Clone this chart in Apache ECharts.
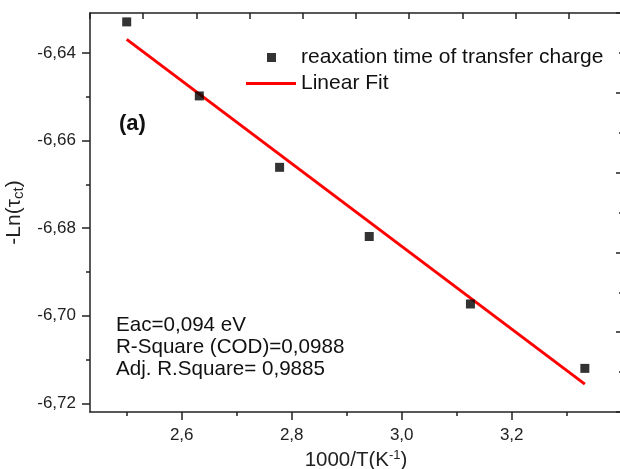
<!DOCTYPE html>
<html>
<head>
<meta charset="utf-8">
<script src="https://cdn.jsdelivr.net/npm/echarts@6/dist/echarts.min.js"></script>
<style>html,body{margin:0;padding:0;background:#fff}#c{width:620px;height:469px}</style>
</head>
<body>
<div id="c"></div>
<script>
// Data
const xVals = [2.5, 2.632, 2.778, 2.941, 3.125, 3.333];
const yVals = [-6.6329, -6.6498, -6.6661, -6.6819, -6.6973, -6.7120];
const fitX = [2.5, 3.333];
const fitY = [-6.6369, -6.7156];
const xMajorTicks = [2.6, 2.8, 3.0, 3.2];
const xMinorTicks = [2.5, 2.7, 2.9, 3.1, 3.3];
const yMajorTicks = [-6.72, -6.70, -6.68, -6.66, -6.64];
const yMinorTicks = [-6.71, -6.69, -6.67, -6.65];
const seriesNames = ['reaxation time of transfer charge', 'Linear Fit'];
const notes = ['Eac=0,094 eV', 'R-Square (COD)=0,0988', 'Adj. R.Square= 0,9885'];
const panelLabel = '(a)';

const FONT = 'Liberation Sans, Arial, sans-serif';
const AX = '#222';
const xMin = 2.43327, xMax = 3.40055;
const yMin = -6.72196, yMax = -6.63087;

const chart = echarts.init(document.getElementById('c'), null, {renderer: 'canvas'});
const hidden = {show: false};
chart.setOption({
  animation: false,
  backgroundColor: '#fff',
  textStyle: {fontFamily: FONT},
  grid: {left: 90, top: 13, width: 532, height: 399, containLabel: false, outerBoundsMode: 'none'},
  legend: [
    {data: [seriesNames[0]], left: 267, top: 47, padding: 0, orient: 'vertical', icon: 'rect', itemWidth: 9, itemHeight: 9,
     textStyle: {fontSize: 21, color: '#111', fontFamily: FONT, padding: [0, 0, 0, 20]}},
    {data: [{name: seriesNames[1], icon: 'path://M0,0H50V3H0Z'}], left: 246, top: 73, padding: 0, orient: 'vertical', itemWidth: 50, itemHeight: 3,
     textStyle: {fontSize: 21, color: '#111', fontFamily: FONT}}
  ],
  xAxis: [
    {type: 'value', position: 'bottom', min: xMin, max: xMax, splitLine: hidden,
     axisLine: {show: true, onZero: false, lineStyle: {color: AX, width: 1.5}},
     axisTick: {show: true, inside: false, length: 8, customValues: xMajorTicks, lineStyle: {color: AX, width: 1.5}},
     axisLabel: {show: true, customValues: xMajorTicks, margin: 15, fontSize: 17, color: '#222', fontFamily: FONT,
       formatter: v => v.toFixed(1).replace('.', ',')},
     name: '{a|1000/T(K}{sup|-1}{a|)}', nameLocation: 'middle', nameGap: 35,
     nameTextStyle: {rich: {a: {fontSize: 20.5, color: '#222', fontFamily: FONT}, sup: {fontSize: 13, color: '#222', fontFamily: FONT, padding: [0, 0, 10, 0]}}}},
    {type: 'value', position: 'bottom', min: xMin, max: xMax, splitLine: hidden,
     axisLine: hidden, axisLabel: hidden,
     axisTick: {show: true, inside: false, length: 4, customValues: xMinorTicks, lineStyle: {color: AX, width: 1.5}}},
    {type: 'value', position: 'top', min: 0, max: 10, interval: 1, splitLine: hidden, axisLabel: hidden,
     axisLine: {show: true, onZero: false, lineStyle: {color: AX, width: 1.5}},
     axisTick: {show: true, inside: true, length: 6, lineStyle: {color: AX, width: 1.5}}}
  ],
  yAxis: [
    {type: 'value', position: 'left', min: yMin, max: yMax, splitLine: hidden,
     axisLine: {show: true, onZero: false, lineStyle: {color: AX, width: 1.5}},
     axisTick: {show: true, inside: false, length: 8, customValues: yMajorTicks, lineStyle: {color: AX, width: 1.5}},
     axisLabel: {show: true, customValues: yMajorTicks, margin: 14, fontSize: 17, color: '#222', fontFamily: FONT,
       formatter: v => v.toFixed(2).replace('.', ',')},
     name: '{a|-Ln(τ}{sub|ct}{a|)}', nameLocation: 'middle', nameGap: 57, nameRotate: 90,
     nameTextStyle: {rich: {a: {fontSize: 21, color: '#222', fontFamily: FONT}, sub: {fontSize: 15, color: '#222', fontFamily: FONT, padding: [10, 0, 0, 0]}}}},
    {type: 'value', position: 'left', min: yMin, max: yMax, splitLine: hidden,
     axisLine: hidden, axisLabel: hidden,
     axisTick: {show: true, inside: false, length: 4, customValues: yMinorTicks, lineStyle: {color: AX, width: 1.5}}},
    {type: 'value', position: 'right', min: 0, max: 10, interval: 2, splitLine: hidden, axisLabel: hidden,
     axisLine: {show: true, onZero: false, lineStyle: {color: AX, width: 1.5}},
     axisTick: {show: true, inside: true, length: 6, lineStyle: {color: AX, width: 1.5}},
     minorTick: {show: true, splitNumber: 2, length: 3, lineStyle: {color: AX, width: 1.5}}}
  ],
  series: [
    {name: seriesNames[0], type: 'scatter', xAxisIndex: 0, yAxisIndex: 0, symbol: 'rect', symbolSize: 9,
     itemStyle: {color: '#000'}, data: xVals.map((x, i) => [x, yVals[i]]), z: 3},
    {name: seriesNames[1], type: 'line', xAxisIndex: 0, yAxisIndex: 0, symbol: 'none', showSymbol: false,
     lineStyle: {color: '#ff0000', width: 3}, itemStyle: {color: '#ff0000'},
     data: fitX.map((x, i) => [x, fitY[i]]), z: 2}
  ],
  graphic: [
    {type: 'text', left: 119, top: 113, style: {text: panelLabel, font: 'bold 22px ' + FONT, fill: '#111'}},
    {type: 'text', left: 116, top: 314, style: {text: notes.join('\n'), font: '20.6px ' + FONT, lineHeight: 22, fill: '#111'}}
  ]
});
</script>
</body>
</html>
